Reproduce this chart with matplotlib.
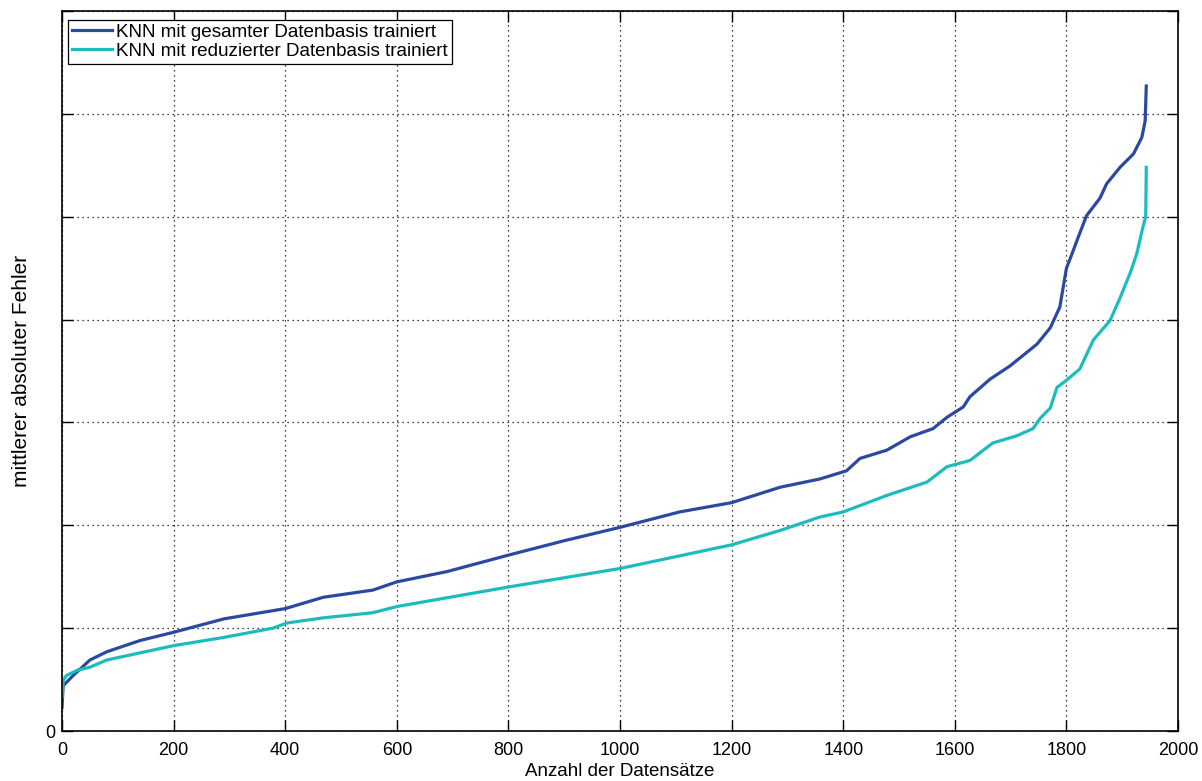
import matplotlib
matplotlib.use("Agg")
import matplotlib.pyplot as plt

# Werte (y in Gitter-Einheiten, Achse ohne Beschriftung)
x_gesamt = [0, 2, 20, 50, 80, 140, 200, 290, 400, 468, 557, 600, 690, 800, 900,
            1000, 1107, 1200, 1287, 1358, 1406, 1430, 1478, 1520, 1561, 1586,
            1615, 1627, 1663, 1699, 1747, 1771, 1788, 1794, 1800, 1810, 1821,
            1836, 1860, 1872, 1896, 1920, 1935, 1941, 1943]
y_gesamt = [0.23, 0.44, 0.54, 0.69, 0.77, 0.88, 0.96, 1.09, 1.19, 1.30, 1.37, 1.45,
            1.55, 1.71, 1.85, 1.98, 2.13, 2.22, 2.37, 2.45, 2.53, 2.65, 2.73, 2.86,
            2.94, 3.05, 3.15, 3.25, 3.42, 3.55, 3.76, 3.92, 4.12, 4.31, 4.50, 4.64,
            4.80, 5.01, 5.18, 5.32, 5.48, 5.61, 5.77, 5.93, 6.27]

x_reduziert = [0, 2, 8, 27, 50, 80, 140, 200, 290, 378, 403, 468, 557, 600, 800,
               1000, 1200, 1287, 1358, 1400, 1478, 1550, 1586, 1627, 1668, 1711,
               1740, 1753, 1771, 1783, 1800, 1824, 1848, 1878, 1896, 1914, 1926,
               1937, 1942, 1943]
y_reduziert = [0.33, 0.49, 0.54, 0.59, 0.62, 0.69, 0.76, 0.83, 0.91, 1.00, 1.05,
               1.10, 1.15, 1.21, 1.40, 1.58, 1.81, 1.95, 2.08, 2.13, 2.29, 2.42,
               2.57, 2.63, 2.80, 2.87, 2.94, 3.04, 3.14, 3.34, 3.41, 3.52, 3.80,
               3.99, 4.21, 4.45, 4.64, 4.90, 5.00, 5.48]

labels = ['KNN mit gesamter Datenbasis trainiert',
          'KNN mit reduzierter Datenbasis trainiert']
x_ticks = list(range(0, 2001, 200))
y_ticks = [0, 1, 2, 3, 4, 5, 6, 7]
y_ticklabels = ['0', '', '', '', '', '', '', '']

plt.rcParams['font.family'] = ['Liberation Sans', 'DejaVu Sans']

fig = plt.figure(figsize=(12.02, 7.81), dpi=100)
ax = fig.add_axes([0.0516, 0.064, 0.9285, 0.922])

ax.plot(x_gesamt, y_gesamt, color='#2a4aa2', lw=2.3, label=labels[0])
ax.plot(x_reduziert, y_reduziert, color='#1cbcbc', lw=2.3, label=labels[1])

ax.set_xlim(0, 2000)
ax.set_ylim(0, 7)
ax.set_xticks(x_ticks)
ax.set_yticks(y_ticks)
ax.set_yticklabels(y_ticklabels)
ax.tick_params(direction='in', length=8, width=1, top=True, right=True,
               labelsize=13)
ax.tick_params(axis='x', pad=8)
ax.tick_params(axis='y', pad=5)
ax.grid(True, color='black', linestyle=(0, (1, 3)), linewidth=0.9)
for s in ax.spines.values():
    s.set_linewidth(1.2)

ax.set_xlabel('Anzahl der Datensätze', fontsize=13.5, labelpad=3)
ax.set_ylabel('mittlerer absoluter Fehler', fontsize=15, labelpad=10)

leg = ax.legend(loc='upper left', bbox_to_anchor=(0.0055, 0.988), fontsize=13.6,
                fancybox=False, framealpha=1, edgecolor='black',
                handlelength=2.1, handletextpad=0.25, borderpad=0.2,
                labelspacing=0.12, borderaxespad=0)
leg.get_frame().set_linewidth(0.9)

fig.savefig('out.png', dpi=100)
